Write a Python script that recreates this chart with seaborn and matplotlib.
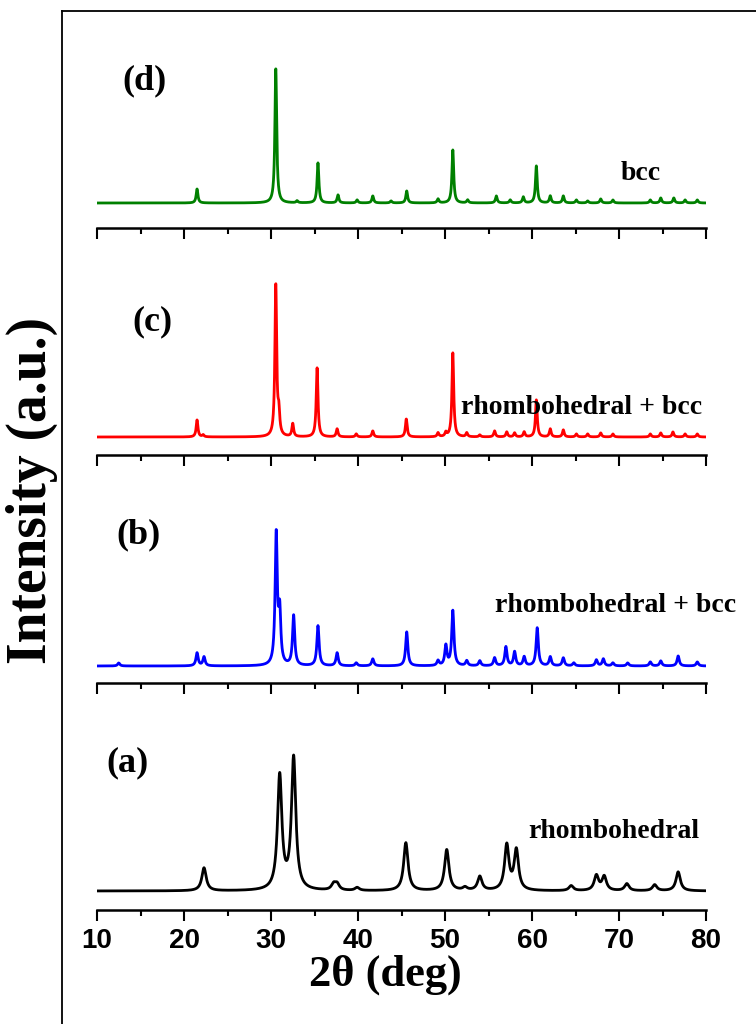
import numpy as np
import pandas as pd
import matplotlib
matplotlib.use("Agg")
import matplotlib.pyplot as plt
import seaborn as sns

# XRD peaks: 2theta position, height above baseline
# (intensity in arbitrary units), baseline level and peak half-width
d_pos = [21.5, 30.55, 33.0, 35.4, 37.7, 39.9, 41.7, 43.8, 45.6, 49.2, 50.9, 52.6, 55.9,
         57.5, 59.0, 60.5, 62.1, 63.6, 65.1, 66.4, 67.9, 69.3, 73.6, 74.8, 76.3, 77.6, 79.0]
d_hgt = [14, 135, 2, 40, 8, 3, 7, 2, 12, 4, 53, 3, 7,
         3, 6, 37, 7, 7, 3, 2, 4, 3, 3, 5, 5, 3, 3]
d_base, d_hw = 25, 0.12

c_pos = [21.5, 22.2, 30.55, 30.9, 32.5, 35.3, 37.6, 39.8, 41.7, 45.55, 49.2, 50.1, 50.9,
         52.5, 54.0, 55.7, 57.1, 58.0, 59.1, 60.5, 62.1, 63.6, 65.1, 66.4, 67.9, 69.3,
         73.6, 74.8, 76.2, 77.6, 79.0]
c_hgt = [17, 2, 152, 20, 13, 69, 8, 3, 6, 18, 4, 4, 84,
         4, 2, 6, 5, 4, 5, 37, 8, 7, 3, 3, 4, 3,
         3, 4, 5, 3, 3]
c_base, c_hw = 18, 0.12

b_pos = [12.5, 21.5, 22.3, 30.6, 31.0, 32.6, 35.4, 37.6, 39.8, 41.7, 45.6, 49.2, 50.1,
         50.9, 52.5, 54.0, 55.7, 57.0, 58.0, 59.1, 60.6, 62.1, 63.6, 64.8, 67.4, 68.2,
         69.3, 71.0, 73.6, 74.8, 76.8, 79.0]
b_hgt = [3, 13, 9, 130, 50, 50, 40, 13, 3, 7, 34, 5, 20,
         55, 5, 5, 8, 19, 14, 9, 38, 9, 8, 3, 6, 7,
         3, 3, 4, 5, 10, 4]
b_base, b_hw = 17, 0.15

a_pos = [22.3, 31.0, 32.6, 37.2, 37.6, 39.9, 45.5, 50.2, 52.3, 54.0, 57.1, 58.2,
         64.5, 67.4, 68.3, 70.9, 74.1, 76.8]
a_hgt = [23, 114, 132, 6, 6, 3, 48, 41, 3, 14, 45, 40,
         5, 15, 14, 7, 6, 19]
a_base, a_hw = 19, 0.3

panel_tags = ["(d)", "(c)", "(b)", "(a)"]
phase_names = ["bcc", "rhombohedral + bcc", "rhombohedral + bcc", "rhombohedral"]
line_colors = ["#008000", "#ff0000", "#0000ff", "#000000"]

two_theta = np.arange(10, 80.001, 0.02)


def pattern(pos, hgt, base, hw):
    y = np.full_like(two_theta, float(base))
    for p, h in zip(pos, hgt):
        y += h / (1 + ((two_theta - p) / hw) ** 2)
    return y


patterns = [pattern(d_pos, d_hgt, d_base, d_hw),
            pattern(c_pos, c_hgt, c_base, c_hw),
            pattern(b_pos, b_hgt, b_base, b_hw),
            pattern(a_pos, a_hgt, a_base, a_hw)]

sns.set_style("ticks")
plt.rcParams['font.family'] = ['Liberation Serif', 'DejaVu Serif']
plt.rcParams['text.color'] = 'black'
plt.rcParams['xtick.color'] = 'black'
plt.rcParams['xtick.labelcolor'] = 'black'

W, H = 756, 1024
fig = plt.figure(figsize=(7.56, 10.24), dpi=100)


def fx(px):
    return px / W


def fy(py):
    return 1 - py / H


# outer frame: only left and top edges are visible
frame = fig.add_axes([fx(62), 0, 1 - fx(62), fy(11)])
frame.set_xticks([])
frame.set_yticks([])
frame.patch.set_alpha(0)
for s in ['right', 'bottom']:
    frame.spines[s].set_visible(False)
for s in ['left', 'top']:
    frame.spines[s].set_linewidth(1.3)
    frame.spines[s].set_color('black')

axis_rows = [228, 455, 683, 910]
tag_xy = [(144, 81), (152, 322), (138, 535), (128, 763)]
phase_xy = [(641, 173), (582, 408), (616, 606), (614, 831)]

for i in range(4):
    yb = axis_rows[i]
    ax = fig.add_axes([fx(97), fy(yb), fx(706) - fx(97), 200 / H])
    df = pd.DataFrame({'2theta': two_theta, 'I': patterns[i]})
    sns.lineplot(data=df, x='2theta', y='I', ax=ax, color=line_colors[i],
                 linewidth=2.0, estimator=None)
    ax.set_xlim(10, 80)
    ax.set_ylim(0, 200)
    ax.patch.set_alpha(0)
    ax.set_xlabel('')
    ax.set_ylabel('')
    ax.set_yticks([])
    for s in ['left', 'right', 'top']:
        ax.spines[s].set_visible(False)
    ax.spines['bottom'].set_linewidth(1.8)
    ax.spines['bottom'].set_color('black')
    ax.set_xticks(np.arange(10, 81, 10))
    ax.set_xticks(np.arange(15, 80, 10), minor=True)
    ax.tick_params(axis='x', which='major', length=8, width=1.5, direction='out',
                   color='black', pad=5)
    ax.tick_params(axis='x', which='minor', length=4.5, width=1.5, direction='out',
                   color='black')
    if i < 3:
        ax.set_xticklabels([])
    else:
        ax.set_xticklabels([str(v) for v in range(10, 81, 10)],
                           fontfamily='Liberation Sans', fontweight='bold', fontsize=20)

    fig.text(fx(tag_xy[i][0]), fy(tag_xy[i][1]), panel_tags[i], ha='center', va='center',
             fontsize=26, fontweight='bold')
    fig.text(fx(phase_xy[i][0]), fy(phase_xy[i][1]), phase_names[i], ha='center',
             va='center', fontsize=20, fontweight='bold')

fig.text(fx(32), fy(490), "Intensity (a.u.)", rotation=90, ha='center', va='center',
         fontsize=40, fontweight='bold')
fig.text(fx(385), fy(975), "2θ (deg)", ha='center', va='center',
         fontsize=32, fontweight='bold')

fig.savefig("out.png", dpi=100)
